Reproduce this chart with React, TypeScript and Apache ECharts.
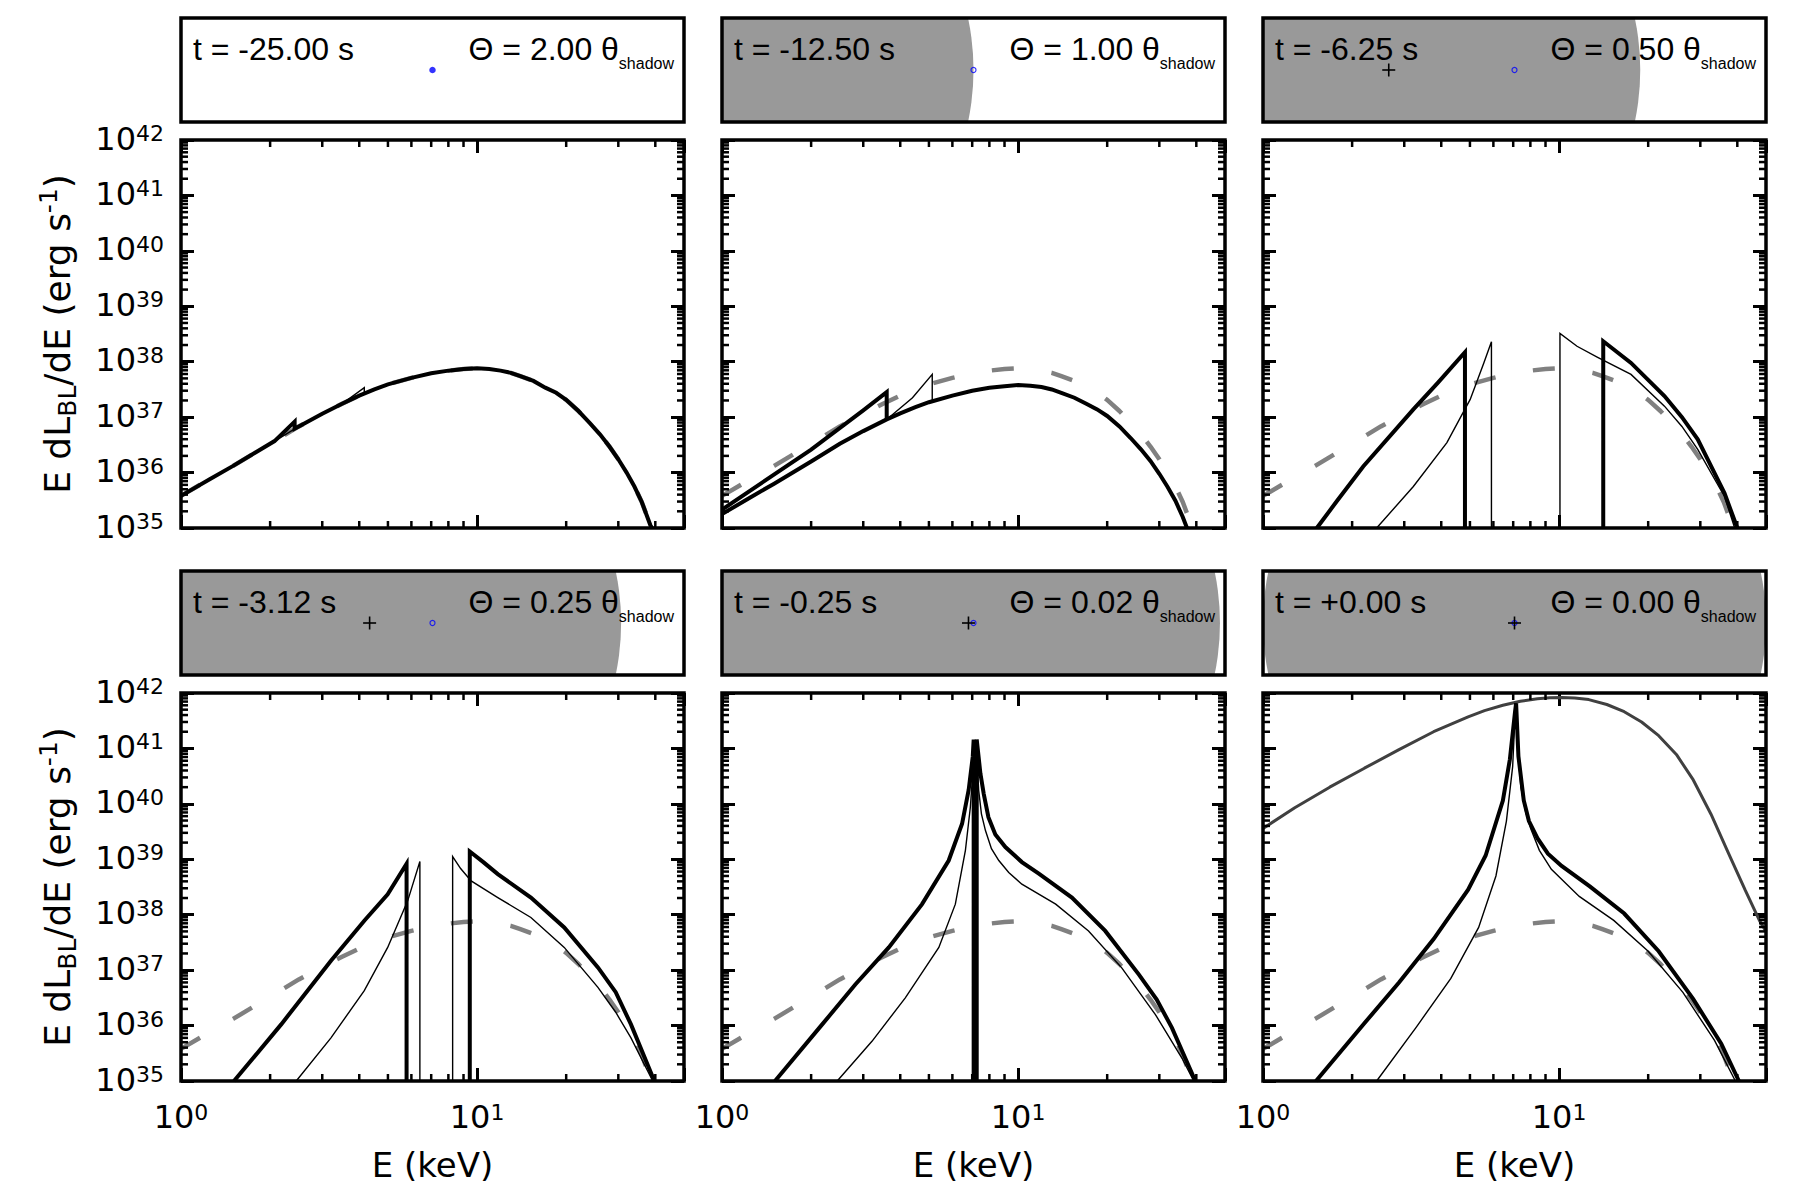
import React, { useEffect, useRef } from 'react';
import * as echarts from 'echarts';

// ---------------- data ----------------
const E_MIN = 1;
const E_MAX = 50;
const L_MIN = 1e35;
const L_MAX = 1e42;

const timeLabels = ['-25.00', '-12.50', '-6.25', '-3.12', '-0.25', '+0.00'];
const thetaValues = [2, 1, 0.5, 0.25, 0.02, 0];
const shadowRadius = 1; // theta_shadow units
const sourcePosition: [number, number] = [0, 0];

const xMinorTicks = [2, 3, 4, 5, 6, 7, 8, 9, 20, 30, 40];
const yMinorMantissas = [2, 3, 4, 5, 6, 7, 8, 9];
const yDecades = [35, 36, 37, 38, 39, 40, 41];

// unlensed spectrum (grey dashed)
const baselineSpectrum: [number, number][] = [
  [1, 3.8e35], [1.25, 7.6e35], [1.5, 1.32e36], [2, 3.3e36], [2.5, 6.8e36], [3, 1.15e37], [3.5, 1.74e37],
  [4, 2.45e37], [4.5, 3.16e37], [5, 3.9e37], [6, 5.1e37], [7, 6.2e37], [8, 6.9e37], [9, 7.4e37],
  [10, 7.6e37], [11, 7.4e37], [12, 6.9e37], [13, 6.3e37], [14, 5.5e37], [15.5, 4.5e37], [17, 3.4e37],
  [18.5, 2.75e37], [20, 2.05e37], [22, 1.29e37], [24, 7.9e36], [26, 4.9e36], [28, 2.95e36],
  [30, 1.74e36], [32, 1.0e36], [34, 5.6e35], [36, 2.95e35], [38.5, 1.12e35], [39, 1.0e35],
];

// t = -25.00 s
const tlThick: [number, number][] = [
  [1, 3.8e35], [1.25, 7.6e35], [1.5, 1.32e36], [2.07, 3.7e36], [2.42, 8.3e36], [2.42, 6.2e36],
  [2.5, 6.8e36], [3, 1.15e37], [3.5, 1.74e37], [4, 2.45e37], [4.5, 3.16e37], [5, 3.9e37], [6, 5.1e37],
  [7, 6.2e37], [8, 6.9e37], [9, 7.4e37], [10, 7.6e37], [11, 7.4e37], [12, 6.9e37], [13, 6.3e37],
  [14, 5.5e37], [15.5, 4.5e37], [17, 3.4e37], [18.5, 2.75e37], [20, 2.05e37], [22, 1.29e37],
  [24, 7.9e36], [26, 4.9e36], [28, 2.95e36], [30, 1.74e36], [32, 1.0e36], [34, 5.6e35],
  [36, 2.95e35], [38.5, 1.12e35], [39, 1.0e35],
];
const tlThin: [number, number][] = [
  [1, 3.8e35], [1.25, 7.6e35], [1.5, 1.32e36], [2, 3.3e36], [2.5, 6.8e36], [3, 1.15e37], [3.5, 1.74e37],
  [4.16, 3.4e37], [4.16, 2.65e37], [4.5, 3.16e37], [5, 3.9e37], [6, 5.1e37], [7, 6.2e37], [8, 6.9e37],
  [9, 7.4e37], [10, 7.6e37], [11, 7.4e37], [12, 6.9e37], [13, 6.3e37], [14, 5.5e37], [15.5, 4.5e37],
  [17, 3.4e37], [18.5, 2.75e37], [20, 2.05e37], [22, 1.29e37], [24, 7.9e36], [26, 4.9e36],
  [28, 2.95e36], [30, 1.74e36], [32, 1.0e36], [34, 5.6e35], [36, 2.95e35], [38.5, 1.12e35], [39, 1.0e35],
];

// t = -12.50 s
const tmDirect: [number, number][] = [
  [1, 1.78e35], [1.25, 3.6e35], [1.5, 6.3e35], [2, 1.58e36], [2.5, 3.3e36], [3, 5.6e36], [3.6, 9.1e36],
  [4, 1.17e37], [4.5, 1.51e37], [5, 1.86e37], [6, 2.45e37], [7, 3.0e37], [8, 3.4e37], [9, 3.6e37],
  [10, 3.8e37], [11, 3.7e37], [12, 3.5e37], [13, 3.16e37], [14, 2.75e37], [15.5, 2.24e37],
  [17, 1.74e37], [18.5, 1.38e37], [20, 1.05e37], [22, 6.8e36], [24, 4.2e36], [26, 2.63e36],
  [28, 1.62e36], [30, 9.5e35], [32, 5.5e35], [34, 3.1e35], [36, 1.58e35], [37.2, 1.0e35],
];
const tmSpikeThick: [number, number][] = [
  [1, 2.14e35], [2, 2.6e36], [3, 1.32e37], [3.6, 2.82e37], [3.6, 9.1e36],
];
const tmSpikeThin: [number, number][] = [
  [3.6, 9.1e36], [4.4, 2.24e37], [5.13, 5.9e37], [5.13, 1.91e37],
];

// t = -6.25 s
const trThickLow: [number, number][] = [
  [1.52, 1e35], [1.78, 3.1e35], [2.18, 1.29e36], [3.22, 1.38e37], [3.9, 4.2e37], [4.81, 1.48e38], [4.81, 1e35],
];
const trThinLow: [number, number][] = [
  [2.42, 1e35], [3.22, 5.6e35], [4.18, 3.47e36], [5.01, 2.09e37], [5.57, 9.5e37], [5.91, 2.29e38], [5.91, 1e35],
];
const trThinHigh: [number, number][] = [
  [10.07, 1e35], [10.07, 3.24e38], [11.5, 1.9e38], [13.5, 1.2e38], [17.5, 5.9e37], [22.7, 1.58e37],
  [26, 6.8e36], [29.4, 2.63e36], [36.2, 3.7e35], [39.2, 1e35],
];
const trThickHigh: [number, number][] = [
  [14.1, 1e35], [14.1, 2.34e38], [17.5, 9.5e37], [22.7, 2.4e37], [26, 1.0e37], [29.4, 3.98e36],
  [36.2, 4.27e35], [40, 1e35],
];

// t = -3.12 s
const blThickLow: [number, number][] = [
  [1.51, 1e35], [2.18, 1.05e36], [3.21, 1.48e37], [4.16, 7.8e37], [4.99, 2.34e38], [5.78, 8.3e38], [5.78, 1e35],
];
const blThinLow: [number, number][] = [
  [2.45, 1e35], [3.21, 6.0e35], [4.16, 4.27e36], [4.99, 2.57e37], [5.83, 1.78e38], [6.41, 9.1e38], [6.41, 1e35],
];
const blThinHigh: [number, number][] = [
  [8.27, 1e35], [8.27, 1.12e39], [8.8, 6.8e38], [9.55, 4.07e38], [11.75, 2.04e38], [15.2, 8.9e37],
  [19.7, 2.57e37], [25.6, 4.9e36], [29.4, 1.74e36], [33.1, 6.0e35], [39.2, 1e35],
];
const blThickHigh: [number, number][] = [
  [9.45, 1e35], [9.45, 1.38e39], [10.5, 8.9e38], [11.75, 5.4e38], [15.2, 2.04e38], [19.7, 5.9e37],
  [25.6, 1.12e37], [29.4, 4.0e36], [33.1, 1.05e36], [39.7, 1e35],
];

// t = -0.25 s
const bmThickLow: [number, number][] = [
  [1.51, 1e35], [2.18, 1.05e36], [2.82, 5.5e36], [3.66, 2.57e37], [4.74, 1.55e38], [5.83, 9.5e38],
  [6.47, 4.37e39], [6.81, 1.78e40], [7.03, 7.1e40], [7.08, 1.45e41], [7.08, 1e35],
];
const bmThickHigh: [number, number][] = [
  [7.25, 1e35], [7.25, 1.45e41], [7.46, 3.55e40], [7.66, 1.5e40], [7.94, 5.75e39], [8.38, 2.8e39],
  [9.06, 1.66e39], [10.3, 8.9e38], [11.75, 5.5e38], [15.2, 2.04e38], [19.7, 5.1e37], [25.6, 8.3e36],
  [29.4, 2.95e36], [33.1, 9.1e35], [39.7, 1e35],
];
const bmThin: [number, number][] = [
  [2.45, 1e35], [3.21, 5.2e35], [4.16, 3.16e36], [5.4, 2.57e37], [6.14, 1.55e38], [6.64, 1.45e39],
  [6.9, 8.7e39], [7.03, 3.55e40], [7.14, 1.23e41], [7.22, 1.23e41], [7.36, 1.78e40], [7.52, 6.6e39],
  [7.76, 3.3e39], [8.13, 1.55e39], [8.61, 9.5e38], [9.3, 5.8e38], [10.3, 3.55e38], [13.4, 1.55e38],
  [17.3, 5.1e37], [22.4, 1.1e37], [29.1, 1.58e36], [35.8, 2.57e35], [39.2, 1e35],
];

// t = +0.00 s
const brThick: [number, number][] = [
  [1.51, 1e35], [2.2, 1.1e36], [2.88, 6.0e36], [3.77, 3.63e37], [4.93, 2.82e38], [5.65, 1.17e39],
  [6.46, 1.15e40], [6.82, 6.3e40], [7.1, 4.57e41], [7.16, 6.5e41], [7.29, 7.2e40], [7.6, 1.15e40],
  [7.91, 4.9e39], [8.45, 2.4e39], [9.17, 1.26e39], [10.2, 7.6e38], [12.7, 3.24e38], [16.6, 1.05e38],
  [21.7, 2.19e37], [28.4, 3.0e36], [35.3, 4.7e35], [40.5, 1e35],
];
const brThin: [number, number][] = [
  [2.42, 1e35], [3.3, 9.5e35], [4.31, 7.1e36], [5.35, 5.9e37], [6.12, 5.0e38], [6.64, 4.9e39],
  [6.97, 4.7e40], [7.11, 4.57e41], [7.16, 6.5e41], [7.28, 7.9e40], [7.43, 2.0e40], [7.7, 7.4e39],
  [8.02, 3.6e39], [8.58, 1.45e39], [9.42, 6.6e38], [11.7, 2.14e38], [15.3, 7.9e37], [20, 2.19e37],
  [26.2, 3.98e36], [33.5, 5.4e35], [39.4, 1e35],
];
const brMagnified: [number, number][] = [
  [1, 3.6e39], [1.28, 8.5e39], [1.68, 2.0e40], [2.2, 4.4e40], [2.88, 9.5e40], [3.77, 2.0e41],
  [4.93, 3.7e41], [5.6, 4.8e41], [6.46, 6.0e41], [7.4, 7.1e41], [8.45, 7.9e41], [9.3, 8.2e41],
  [10.2, 8.3e41], [11.3, 8.1e41], [12.6, 7.6e41], [14.5, 6.2e41], [16.6, 4.6e41], [19, 3.0e41],
  [21.7, 1.7e41], [24.9, 7.8e40], [28.4, 2.7e40], [32.6, 6.5e39], [37.2, 1.35e39], [42.5, 2.8e38],
  [47.5, 7.9e37], [50, 5.0e37],
];

// ---------------- styles / layout ----------------
const AXIS_FONT = 'DejaVu Sans';
const BOX_FONT = 'Liberation Sans';
const COL_LEFT = [181, 722, 1263];
const PANEL_W = 503;
const BOX_TOP = [18, 571];
const BOX_H = 104;
const PLOT_TOP = [140, 693];
const PLOT_H = 388;
const MAJOR_LEN = 13;
const MINOR_LEN = 7;

const lineStyles: Record<string, any> = {
  dash: { color: '#808080', width: 4.5, type: [22, 38], cap: 'butt' },
  thick: { color: '#000000', width: 4, join: 'miter', miterLimit: 4 },
  thin: { color: '#000000', width: 1.4, join: 'miter', miterLimit: 4 },
  dark: { color: '#404040', width: 3 },
};

const panels: { lines: [[number, number][], string][] }[] = [
  { lines: [[baselineSpectrum, 'dash'], [tlThick, 'thick'], [tlThin, 'thin']] },
  { lines: [[baselineSpectrum, 'dash'], [tmDirect, 'thick'], [tmSpikeThick, 'thick'], [tmSpikeThin, 'thin']] },
  { lines: [[baselineSpectrum, 'dash'], [trThickLow, 'thick'], [trThickHigh, 'thick'], [trThinLow, 'thin'], [trThinHigh, 'thin']] },
  { lines: [[baselineSpectrum, 'dash'], [blThickLow, 'thick'], [blThickHigh, 'thick'], [blThinLow, 'thin'], [blThinHigh, 'thin']] },
  { lines: [[baselineSpectrum, 'dash'], [bmThickLow, 'thick'], [bmThickHigh, 'thick'], [bmThin, 'thin']] },
  { lines: [[baselineSpectrum, 'dash'], [brMagnified, 'dark'], [brThick, 'thick'], [brThin, 'thin']] },
];

const tickLabelRich = {
  b: { fontSize: 32, fontFamily: AXIS_FONT, color: '#000', lineHeight: 35, verticalAlign: 'top' },
  sup: { fontSize: 22, fontFamily: AXIS_FONT, color: '#000', lineHeight: 20, verticalAlign: 'top' },
};
const yNameRich = {
  b: { fontSize: 36, fontFamily: AXIS_FONT, color: '#000', lineHeight: 40, verticalAlign: 'top', padding: [3, 0, 0, 0] },
  sub: { fontSize: 25, fontFamily: AXIS_FONT, color: '#000', lineHeight: 25, verticalAlign: 'top', padding: [19, 0, 0, 0] },
  sup: { fontSize: 25, fontFamily: AXIS_FONT, color: '#000', lineHeight: 25, verticalAlign: 'top' },
};

function powerLabel(v: number) {
  const e = Math.log10(v);
  const r = Math.round(e);
  return Math.abs(e - r) < 1e-6 ? `{b|10}{sup|${r}}` : '';
}

function buildOption() {
  const grid: any[] = [];
  const xAxis: any[] = [];
  const yAxis: any[] = [];
  const series: any[] = [];
  const graphic: any[] = [];
  const yMinorTicks: number[] = [];
  yDecades.forEach((d) => yMinorMantissas.forEach((m) => yMinorTicks.push(m * Math.pow(10, d))));
  const boxYHalf = (BOX_H / 2) / (PANEL_W / 2) * shadowRadius;
  const tickStyle = { stroke: '#000', lineWidth: 2.5 };

  panels.forEach((panel, i) => {
    const col = i % 3;
    const row = Math.floor(i / 3);
    const left = COL_LEFT[col];
    const isBottom = row === 1;
    const isLeft = col === 0;
    const theta = thetaValues[i];

    // ---- info box ----
    const gb = grid.length;
    grid.push({ left, top: BOX_TOP[row], width: PANEL_W, height: BOX_H, show: true, borderColor: '#000', borderWidth: 3.5, backgroundColor: 'rgba(0,0,0,0)', z: 10 });
    const bx = xAxis.length;
    xAxis.push({ type: 'value', gridIndex: gb, min: -shadowRadius, max: shadowRadius, show: false });
    const by = yAxis.length;
    yAxis.push({ type: 'value', gridIndex: gb, min: -boxYHalf, max: boxYHalf, show: false });

    series.push({
      type: 'custom', xAxisIndex: bx, yAxisIndex: by, silent: true, z: 2,
      data: [[-theta, 0, shadowRadius]],
      renderItem: (params: any, api: any) => {
        const cs = params.coordSys;
        const c = api.coord([api.value(0), api.value(1)]);
        const r = api.size([api.value(2), 0])[0];
        return {
          type: 'circle', shape: { cx: c[0], cy: c[1], r },
          style: { fill: '#999999' },
          clipPath: { type: 'rect', shape: { x: cs.x, y: cs.y, width: cs.width, height: cs.height } },
        };
      },
    });
    const visible = theta > shadowRadius;
    series.push({
      type: 'scatter', xAxisIndex: bx, yAxisIndex: by, silent: true, z: 4,
      data: [sourcePosition], symbol: 'circle', symbolSize: visible ? 6.5 : 5,
      itemStyle: visible ? { color: '#0000ff' } : { color: 'rgba(0,0,0,0)', borderColor: '#0000ff', borderWidth: 1.2 },
    });
    series.push({
      type: 'custom', xAxisIndex: bx, yAxisIndex: by, silent: true, z: 5,
      data: [[-theta, 0]],
      renderItem: (params: any, api: any) => {
        const cs = params.coordSys;
        const c = api.coord([api.value(0), api.value(1)]);
        if (c[0] <= cs.x + 2 || c[0] >= cs.x + cs.width - 2) return null;
        const h = 6.5;
        const st = { stroke: '#000', lineWidth: 1.6 };
        return {
          type: 'group',
          children: [
            { type: 'line', shape: { x1: c[0] - h, y1: c[1], x2: c[0] + h, y2: c[1] }, style: st },
            { type: 'line', shape: { x1: c[0], y1: c[1] - h, x2: c[0], y2: c[1] + h }, style: st },
          ],
        };
      },
    });

    graphic.push({
      type: 'text', x: left + 12, y: BOX_TOP[row] + 31, z: 100,
      style: { text: `t = ${timeLabels[i]} s`, fontSize: 32, fontFamily: BOX_FONT, fill: '#000', align: 'left', verticalAlign: 'middle', textAlign: 'left', textVerticalAlign: 'middle' },
    });
    graphic.push({
      type: 'text', x: left + PANEL_W - 10, y: BOX_TOP[row] + 15, z: 100,
      style: {
        text: `{b|\u0398 = ${theta.toFixed(2)} \u03b8}{s|shadow}`,
        rich: {
          b: { fontSize: 32, fontFamily: BOX_FONT, fill: '#000', lineHeight: 32, verticalAlign: 'top' },
          s: { fontSize: 16, fontFamily: BOX_FONT, fill: '#000', lineHeight: 16, verticalAlign: 'top', padding: [22, 0, 0, 0] },
        },
        align: 'right', verticalAlign: 'top', textAlign: 'right', textVerticalAlign: 'top',
      },
    });

    // ---- spectrum plot ----
    const gp = grid.length;
    grid.push({ left, top: PLOT_TOP[row], width: PANEL_W, height: PLOT_H, show: true, borderColor: '#000', borderWidth: 3.5, backgroundColor: 'rgba(0,0,0,0)', z: 10 });
    const tickCommon = { show: true, inside: true, length: MAJOR_LEN, lineStyle: { color: '#000', width: 3 } };
    const xb = xAxis.length;
    xAxis.push({
      type: 'log', logBase: 10, gridIndex: gp, position: 'bottom', min: E_MIN, max: E_MAX,
      axisLine: { show: false }, axisTick: tickCommon, splitLine: { show: false },
      axisLabel: { show: isBottom, margin: 20, formatter: powerLabel, rich: tickLabelRich },
      name: isBottom ? 'E (keV)' : '', nameLocation: 'middle', nameGap: 67,
      nameTextStyle: { fontSize: 34, fontFamily: AXIS_FONT, color: '#000' },
    });
    xAxis.push({
      type: 'log', logBase: 10, gridIndex: gp, position: 'top', min: E_MIN, max: E_MAX,
      axisLine: { show: false }, axisTick: tickCommon, splitLine: { show: false }, axisLabel: { show: false },
    });
    const yl = yAxis.length;
    yAxis.push({
      type: 'log', logBase: 10, gridIndex: gp, position: 'left', min: L_MIN, max: L_MAX, splitNumber: 7,
      axisLine: { show: false }, axisTick: tickCommon, splitLine: { show: false },
      axisLabel: { show: isLeft, margin: 17, formatter: powerLabel, rich: tickLabelRich },
      name: isLeft ? '{b|E dL}{sub|BL}{b|/dE (erg s}{sup|-1}{b|)}' : '', nameLocation: 'middle', nameRotate: 90, nameGap: 105,
      nameTextStyle: { rich: yNameRich },
    });
    yAxis.push({
      type: 'log', logBase: 10, gridIndex: gp, position: 'right', min: L_MIN, max: L_MAX, splitNumber: 7,
      axisLine: { show: false }, axisTick: tickCommon, splitLine: { show: false }, axisLabel: { show: false },
    });

    panel.lines.forEach(([data, styleKey]) => {
      series.push({
        type: 'line', xAxisIndex: xb, yAxisIndex: yl, data, symbol: 'none', showSymbol: false,
        silent: true, clip: true, z: styleKey === 'dash' ? 2 : 3, lineStyle: lineStyles[styleKey],
      });
    });

    // minor ticks (log positions) on all four sides
    series.push({
      type: 'custom', xAxisIndex: xb, yAxisIndex: yl, silent: true, z: 6,
      data: xMinorTicks.map((v) => [v, L_MIN]),
      renderItem: (params: any, api: any) => {
        const cs = params.coordSys;
        const px = api.coord([api.value(0), L_MIN])[0];
        const bottom = cs.y + cs.height;
        return {
          type: 'group', children: [
            { type: 'line', shape: { x1: px, y1: bottom, x2: px, y2: bottom - MINOR_LEN }, style: tickStyle },
            { type: 'line', shape: { x1: px, y1: cs.y, x2: px, y2: cs.y + MINOR_LEN }, style: tickStyle },
          ],
        };
      },
    });
    series.push({
      type: 'custom', xAxisIndex: xb, yAxisIndex: yl, silent: true, z: 6,
      data: yMinorTicks.map((v) => [E_MIN, v]),
      renderItem: (params: any, api: any) => {
        const cs = params.coordSys;
        const py = api.coord([E_MIN, api.value(1)])[1];
        const right = cs.x + cs.width;
        return {
          type: 'group', children: [
            { type: 'line', shape: { x1: cs.x, y1: py, x2: cs.x + MINOR_LEN, y2: py }, style: tickStyle },
            { type: 'line', shape: { x1: right, y1: py, x2: right - MINOR_LEN, y2: py }, style: tickStyle },
          ],
        };
      },
    });
  });

  return {
    animation: false,
    backgroundColor: '#ffffff',
    grid, xAxis, yAxis, series, graphic,
  };
}

export default function App() {
  const ref = useRef<HTMLDivElement>(null);
  useEffect(() => {
    document.body.style.margin = '0';
    const chart = echarts.init(ref.current as HTMLDivElement, null, { renderer: 'svg' });
    chart.setOption(buildOption() as any);
    return () => chart.dispose();
  }, []);
  return <div ref={ref} style={{ width: 1800, height: 1200, background: '#ffffff' }} />;
}
